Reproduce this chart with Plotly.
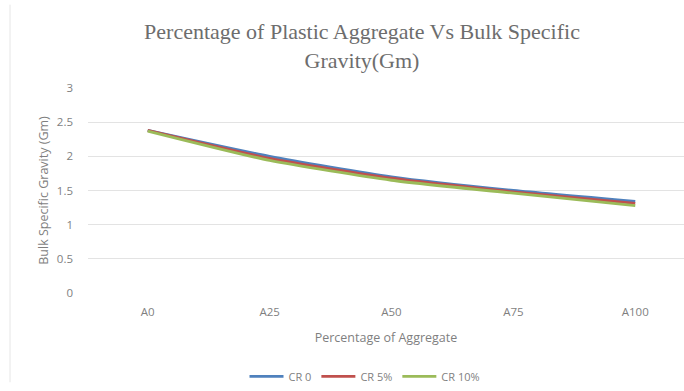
import plotly.graph_objects as go

categories = ["A0", "A25", "A50", "A75", "A100"]
cr_0 = [2.38, 2.00, 1.70, 1.50, 1.34]
cr_5 = [2.38, 1.97, 1.68, 1.48, 1.31]
cr_10 = [2.37, 1.94, 1.65, 1.46, 1.28]
series_names = ["CR 0", "CR 5%", "CR 10%"]
series_colors = ["#4F81BD", "#C0504D", "#9BBB59"]
y_ticks = [0, 0.5, 1, 1.5, 2, 2.5, 3]

W, H = 684, 391
L, R, T, B = 88, 0, 88, 94

fig = go.Figure()
for name, vals, col in zip(series_names, [cr_0, cr_5, cr_10], series_colors):
    fig.add_trace(go.Scatter(
        x=categories, y=vals, name=name, mode="lines",
        line=dict(color=col, width=2.8, shape="spline", smoothing=0.6),
    ))

sans = "Open Sans, Liberation Sans, sans-serif"
tick_font = dict(family=sans, size=11.5, color="#7f7f7f")
title_font = dict(family=sans, size=12.5, color="#7f7f7f")

fig.update_layout(
    width=W, height=H,
    margin=dict(l=L, r=R, t=T, b=B),
    paper_bgcolor="white", plot_bgcolor="white",
    title=dict(
        text="Percentage of Plastic Aggregate Vs Bulk Specific<br>Gravity(Gm)",
        font=dict(family="Liberation Serif, Times New Roman, serif", size=22, color="#6d6d6d"),
        x=362 / W, xref="container", xanchor="center",
        y=1 - 39 / H, yref="container", yanchor="middle",
    ),
    xaxis=dict(
        type="category", range=[-0.49, 4.40],
        showgrid=False, zeroline=False, showline=False, ticks="",
        tickfont=tick_font, ticklabelstandoff=10,
        title=dict(text="Percentage of Aggregate", font=title_font, standoff=15),
    ),
    yaxis=dict(
        range=[0, 3], tickvals=y_ticks, ticktext=[f"{v:g}" for v in y_ticks],
        showgrid=True, gridcolor="#e3e3e3", gridwidth=1.3,
        zeroline=False, showline=False, ticks="",
        tickfont=tick_font, ticklabelstandoff=14,
        title=dict(text="Bulk Specific Gravity (Gm)", font=title_font, standoff=5),
    ),
    legend=dict(
        orientation="h", x=(365 - L) / (W - L - R), xanchor="center",
        y=-(382 - (H - B)) / (H - T - B), yanchor="middle",
        font=dict(family=sans, size=11, color="#7f7f7f"),
        itemwidth=34, tracegroupgap=0,
    ),
    showlegend=True,
)

# faint outer border on the left of the chart area
fig.add_shape(type="line", xref="paper", yref="paper",
              x0=-(L - 10) / (W - L - R), x1=-(L - 10) / (W - L - R),
              y0=-(B - 3) / (H - T - B), y1=1 + (T - 3) / (H - T - B),
              line=dict(color="#e6e6e6", width=1))

fig.write_html("out.html")
